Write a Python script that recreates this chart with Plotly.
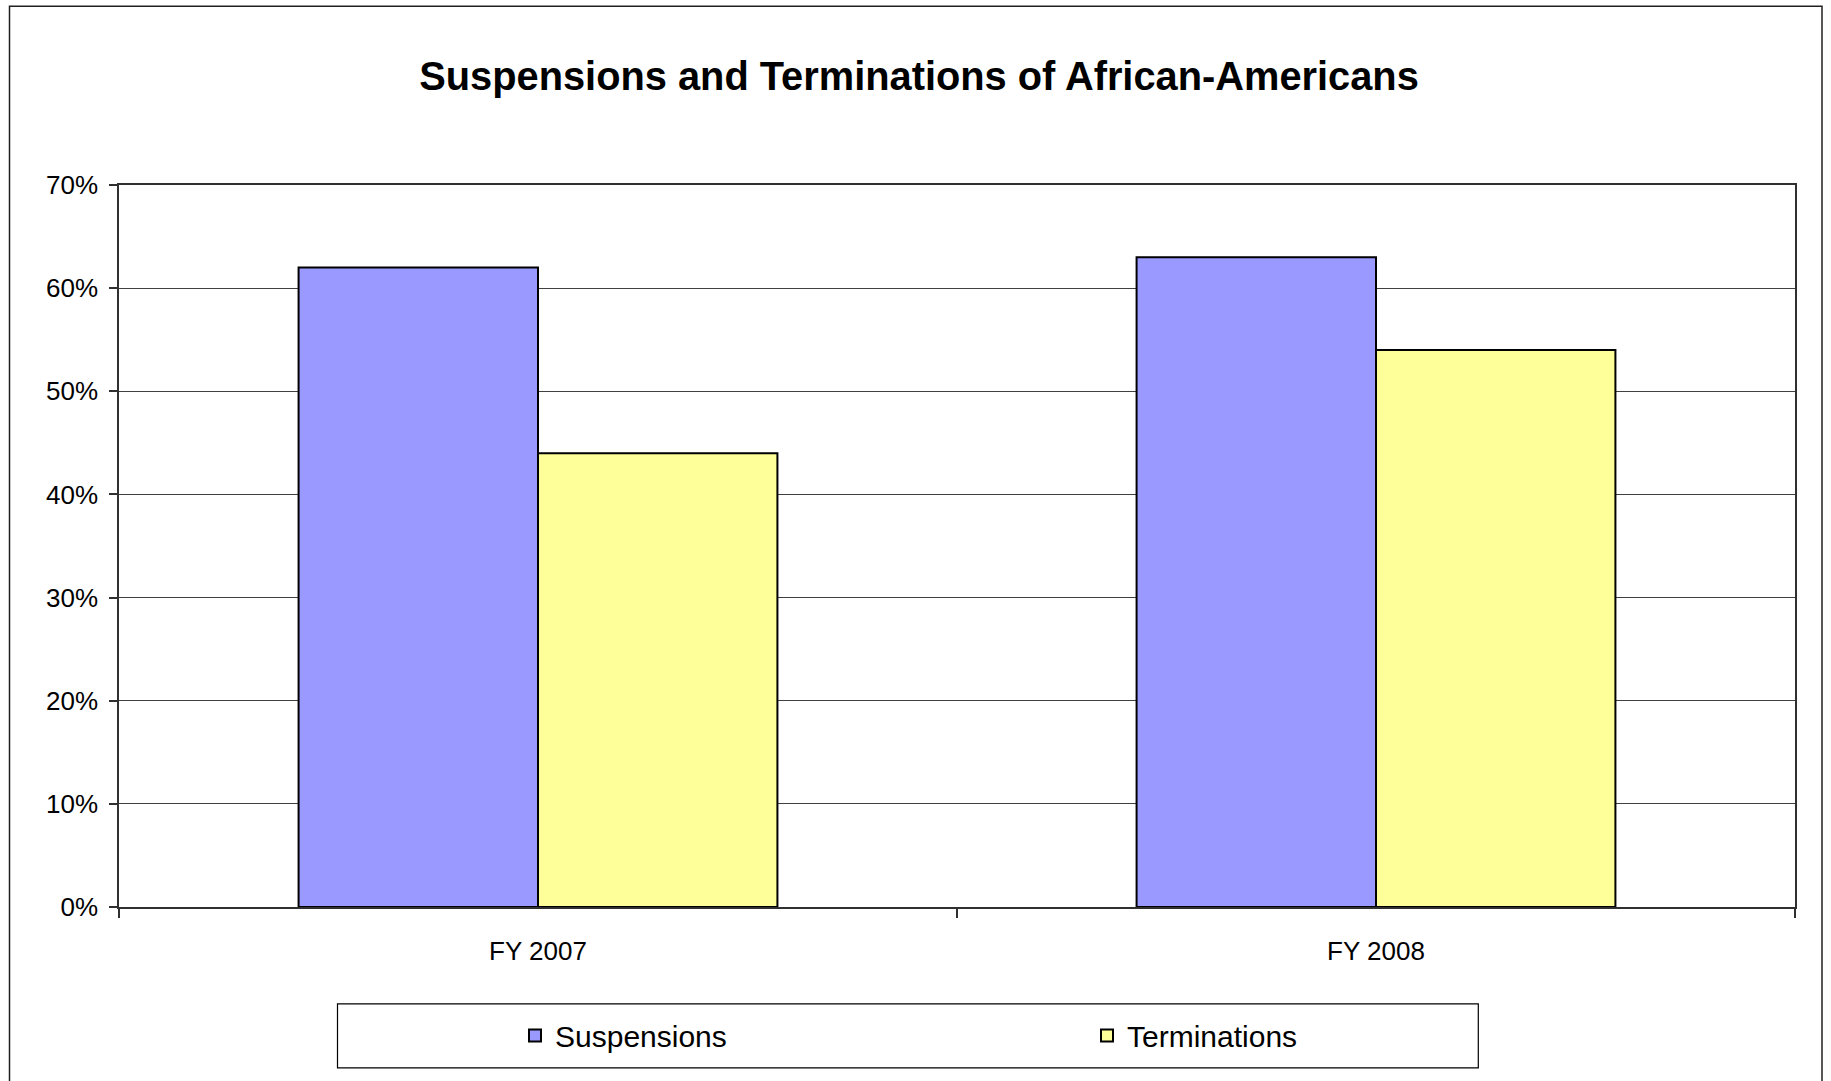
import plotly.graph_objects as go

categories = ["FY 2007", "FY 2008"]
suspensions = [62, 63]
terminations = [44, 54]
y_ticks = [0, 10, 20, 30, 40, 50, 60, 70]
y_tick_labels = [f"{v}%" for v in y_ticks]

W, H = 1831, 1081
L, R, T, B = 119, 1795, 184.5, 907.3
pw, ph = R - L, B - T

def px(x):
    return (x - L) / pw

def py(y):
    return (B - y) / ph

FONT = "Liberation Sans, Arial, sans-serif"

fig = go.Figure()
fig.add_trace(go.Bar(name="Suspensions", x=categories, y=suspensions,
                     marker=dict(color="#9999FF", line=dict(color="black", width=2))))
fig.add_trace(go.Bar(name="Terminations", x=categories, y=terminations,
                     marker=dict(color="#FFFF99", line=dict(color="black", width=2))))

fig.update_layout(
    width=W, height=H,
    margin=dict(l=L, r=W - R, t=T, b=H - B, pad=0),
    paper_bgcolor="white", plot_bgcolor="white",
    barmode="group", bargap=0.4286, bargroupgap=0,
    font=dict(family=FONT, color="black", size=26),
    title=dict(text="<b>Suspensions and Terminations of African-Americans</b>",
               x=919 / W, xanchor="center",
               y=1 - 76 / H, yanchor="middle",
               font=dict(family=FONT, size=39.8, color="black")),
    xaxis=dict(type="category", showline=True, linecolor="#303030", linewidth=1.5,
               mirror=True, ticks="outside", tickson="boundaries", ticklen=9,
               tickcolor="#303030", tickwidth=1.5, showgrid=False,
               tickfont=dict(size=26), ticklabelstandoff=20),
    yaxis=dict(range=[0, 70], tickvals=y_ticks, ticktext=y_tick_labels,
               showline=True, linecolor="#303030", linewidth=1.5, mirror=True,
               ticks="outside", ticklen=8, tickcolor="#303030", tickwidth=1.5,
               showgrid=True, gridcolor="#404040", gridwidth=1, zeroline=False,
               tickfont=dict(size=26), ticklabelstandoff=6),
    showlegend=True,
    legend=dict(orientation="h", x=px(515), xanchor="left", y=py(1036), yanchor="middle",
                bgcolor="rgba(0,0,0,0)", borderwidth=0,
                entrywidth=527, entrywidthmode="pixels",
                font=dict(family=FONT, size=30, color="black")),
    shapes=[
        dict(type="rect", xref="paper", yref="paper",
             x0=px(9.5), x1=px(1822), y0=py(1095), y1=py(5.5),
             line=dict(color="#202020", width=1.5), fillcolor="rgba(0,0,0,0)", layer="below"),
        dict(type="rect", xref="paper", yref="paper",
             x0=px(337.5), x1=px(1478.3), y0=py(1068.4), y1=py(1004.2),
             line=dict(color="black", width=1.2), fillcolor="rgba(0,0,0,0)", layer="below"),
    ],
)

fig.write_html("out.html", config={"displayModeBar": False},
               post_script="document.body.style.margin='0';")
